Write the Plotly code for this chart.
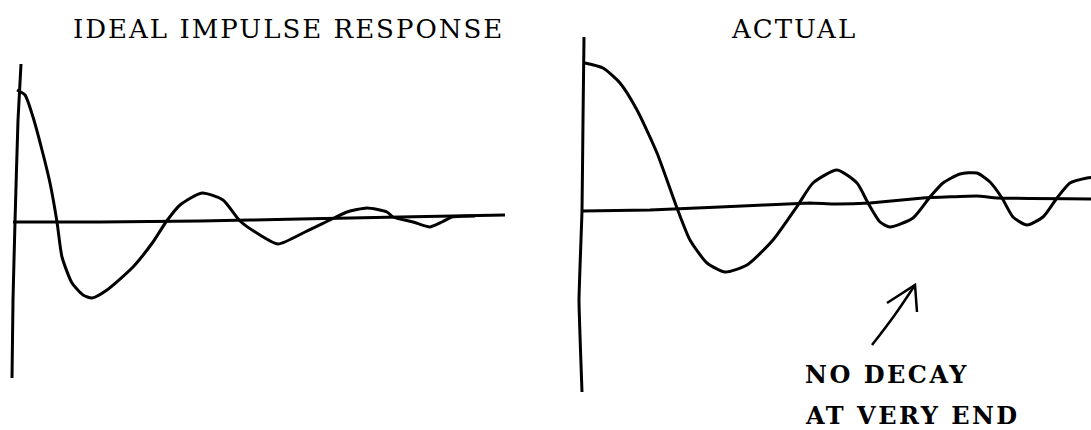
import plotly.graph_objects as go

# ---- Ideal impulse response (left sketch) ----
# time in sketch units, amplitude relative to the baseline
ideal_t = [0.2, 1.0, 1.8, 2.7, 3.5, 4.2, 4.7, 5.7, 6.8, 7.7, 9.2, 11.8, 13.8, 15.1,
           16.5, 18.7, 20.8, 22.5, 24.5, 26.3, 29.0, 31.5, 33.2, 35.2, 37.2, 37.8,
           39.8, 41.5, 42.7, 43.7, 46.0]
ideal_a = [1.31, 1.26, 1.04, 0.71, 0.38, -0.01, -0.36, -0.62, -0.74, -0.77, -0.69,
           -0.46, -0.21, -0.01, 0.16, 0.28, 0.21, 0.0, -0.14, -0.23, -0.11, 0.01,
           0.09, 0.13, 0.09, 0.04, -0.01, -0.06, -0.01, 0.04, 0.05]
ideal_base_t = [-0.2, 8.5, 18.5, 28.5, 38.5, 49.0]
ideal_base_a = [-0.01, -0.01, 0.0, 0.02, 0.04, 0.06]
ideal_vert_t = [0.6, 0.3, 0.0, -0.2, -0.3]
ideal_vert_a = [1.57, 1.01, -0.01, -0.79, -1.57]

# ---- Actual response (right sketch) ----
actual_t = [0.3, 2.1, 3.8, 5.5, 7.5, 9.5, 10.8, 12.5, 14.3, 16.5, 19.1, 21.6, 23.1,
            25.5, 27.5, 28.6, 29.8, 30.8, 33.1, 34.8, 36.1, 37.8, 39.5, 40.8, 42.0,
            43.1, 44.5, 46.1, 47.5, 48.8, 50.5, 51.3]
actual_a = [1.48, 1.43, 1.28, 1.01, 0.58, 0.03, -0.29, -0.52, -0.61, -0.54, -0.29,
            0.06, 0.28, 0.41, 0.28, 0.08, -0.11, -0.16, -0.07, 0.14, 0.28, 0.37,
            0.38, 0.29, 0.13, -0.06, -0.14, -0.06, 0.13, 0.28, 0.33, 0.34]
actual_base_t = [0.0, 6.8, 13.8, 22.8, 25.1, 28.8, 34.1, 39.5, 41.5, 51.5]
actual_base_a = [0.0, 0.01, 0.04, 0.08, 0.07, 0.08, 0.13, 0.15, 0.13, 0.12]
actual_vert_t = [0.2, 0.1, 0.0, -0.3, 0.0]
actual_vert_a = [1.74, 0.91, 0.0, -0.89, -1.81]

# hand-drawn arrow pointing at the late oscillations
arrow_shaft_t = [29.0, 31.2, 33.3]
arrow_shaft_a = [-1.34, -1.05, -0.74]
arrow_head_t = [30.5, 33.3, 33.5]
arrow_head_a = [-0.92, -0.74, -1.01]

titles = ["IDEAL IMPULSE RESPONSE", "ACTUAL"]
note_lines = ["NO DECAY", "AT VERY END"]

INK = "#000000"
W, H = 1091, 430
split = 540

pen = dict(color=INK, width=3, shape="spline", smoothing=0.6)
pen_straight = dict(color=INK, width=3, shape="spline", smoothing=0.3)

fig = go.Figure()


def stroke(x, y, axis, line):
    fig.add_trace(go.Scatter(x=x, y=y, mode="lines", line=line,
                             xaxis="x" + axis, yaxis="y" + axis,
                             hoverinfo="skip", showlegend=False))


stroke(ideal_vert_t, ideal_vert_a, "", pen_straight)
stroke(ideal_base_t, ideal_base_a, "", pen_straight)
stroke(ideal_t, ideal_a, "", pen)

stroke(actual_vert_t, actual_vert_a, "2", pen_straight)
stroke(actual_base_t, actual_base_a, "2", pen_straight)
stroke(actual_t, actual_a, "2", pen)

stroke(arrow_shaft_t, arrow_shaft_a, "2", dict(color=INK, width=2.5, shape="spline"))
stroke(arrow_head_t, arrow_head_a, "2", dict(color=INK, width=2.5))

hidden = dict(visible=False, fixedrange=True)
fig.update_layout(
    width=W, height=H,
    margin=dict(l=0, r=0, t=0, b=0),
    paper_bgcolor="white", plot_bgcolor="white",
    xaxis=dict(domain=[0, split / W], range=[-1.5, 52.5], **hidden),
    yaxis=dict(domain=[0, 1], range=[-2.09, 2.21], **hidden),
    xaxis2=dict(domain=[split / W, 1], range=[-4.2, 50.9], **hidden),
    yaxis2=dict(domain=[0, 1], range=[-2.19, 2.11], anchor="x2", **hidden),
)


def label(text, x, y, size, bold=False, spacing=2.0):
    body = f'<span style="letter-spacing:{spacing}px">{text}</span>'
    if bold:
        body = f"<b>{body}</b>"
    fig.add_annotation(text=body, xref="paper", yref="paper",
                       x=x / W, y=1 - y / H, xanchor="left", yanchor="middle",
                       showarrow=False,
                       font=dict(family="DejaVu Serif", size=size, color=INK))


label(titles[0], 71, 29, 26, spacing=2.0)
label(titles[1], 729, 29, 26, spacing=2.0)
label(note_lines[0], 803, 374, 24, bold=True, spacing=2.5)
label(note_lines[1], 803, 415, 24, bold=True, spacing=2.5)

fig.write_html("out.html")
